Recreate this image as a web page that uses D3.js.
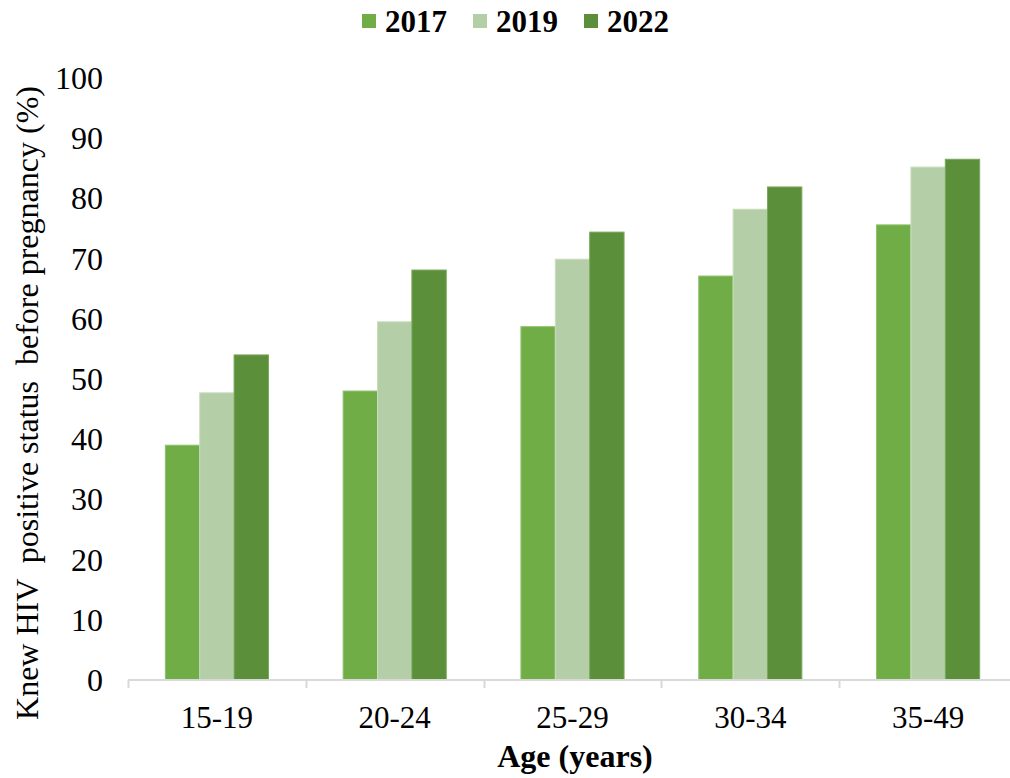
<!DOCTYPE html>
<html><head><meta charset="utf-8">
<script src="https://cdn.jsdelivr.net/npm/d3@7"></script>
<style>body{margin:0;background:#fff;}svg{display:block;font-family:"Liberation Serif","Times New Roman",serif;}</style>
</head><body>
<svg id="chart" width="1010" height="778"></svg>
<script>
const categories = ["15-19","20-24","25-29","30-34","35-49"];
const seriesNames = ["2017","2019","2022"];
const values2017 = [39.0, 48.0, 58.7, 67.1, 75.6];
const values2019 = [47.7, 59.5, 69.9, 78.2, 85.2];
const values2022 = [54.0, 68.1, 74.4, 81.9, 86.5];
const yTicks = [0,10,20,30,40,50,60,70,80,90,100];
const colors = ["#70ad47","#b4cfa7","#5b8f3a"];
const strokes = ["#8cc26a","#c9ddbe","#7aa85c"];

const seriesValues = [values2017, values2019, values2022];
const svg = d3.select("#chart");
const pLeft = 128, pRight = 1017, pTop = 78, pBottom = 680;

const x = d3.scaleBand().domain(categories).range([pLeft, pRight]).paddingInner(0.42).paddingOuter(0.21);
const xs = d3.scaleBand().domain(seriesNames).range([0, x.bandwidth()]);
const y = d3.scaleLinear().domain([0,100]).range([pBottom, pTop]);

// bars
const g = svg.append("g");
categories.forEach((c, i) => {
  seriesNames.forEach((s, j) => {
    const v = seriesValues[j][i];
    g.append("rect")
      .attr("x", x(c) + xs(s))
      .attr("y", y(v))
      .attr("width", xs.bandwidth())
      .attr("height", y(0) - y(v))
      .attr("fill", colors[j])
      .attr("stroke", strokes[j])
      .attr("stroke-width", 1);
  });
});

// x axis line and ticks
const step = x.step();
const ax = svg.append("g");
ax.append("line").attr("x1", pLeft).attr("x2", pRight).attr("y1", pBottom).attr("y2", pBottom)
  .attr("stroke", "#d9d9d9").attr("stroke-width", 2);
d3.range(categories.length + 1).forEach(k => {
  const xx = Math.round(pLeft + k * step) + 0.5;
  ax.append("line").attr("x1", xx).attr("x2", xx).attr("y1", pBottom).attr("y2", pBottom + 8)
    .attr("stroke", "#d9d9d9").attr("stroke-width", 2);
});
categories.forEach(c => {
  ax.append("text").attr("x", x(c) + x.bandwidth()/2).attr("y", 728)
    .attr("text-anchor", "middle").attr("font-size", 31).attr("fill", "#000").text(c);
});

// y tick labels
yTicks.forEach(t => {
  svg.append("text").attr("x", 103).attr("y", y(t) + 11)
    .attr("text-anchor", "end").attr("font-size", 32).attr("fill", "#000").text(t);
});

// axis titles
svg.append("text").attr("x", 575).attr("y", 767)
  .attr("text-anchor", "middle").attr("font-size", 32).attr("font-weight", "bold").text("Age (years)");
svg.append("text").attr("transform", "translate(38,403) rotate(-90)")
  .attr("text-anchor", "middle").attr("font-size", 32)
  .style("white-space", "pre").text("Knew HIV  positive status  before pregnancy (%)");

// legend
const legX = [362, 473, 584];
seriesNames.forEach((s, j) => {
  svg.append("rect").attr("x", legX[j]).attr("y", 14).attr("width", 14).attr("height", 14).attr("fill", colors[j]);
  svg.append("text").attr("x", legX[j] + 23).attr("y", 32).attr("font-size", 31).attr("font-weight", "bold").text(s);
});
</script>
</body></html>
